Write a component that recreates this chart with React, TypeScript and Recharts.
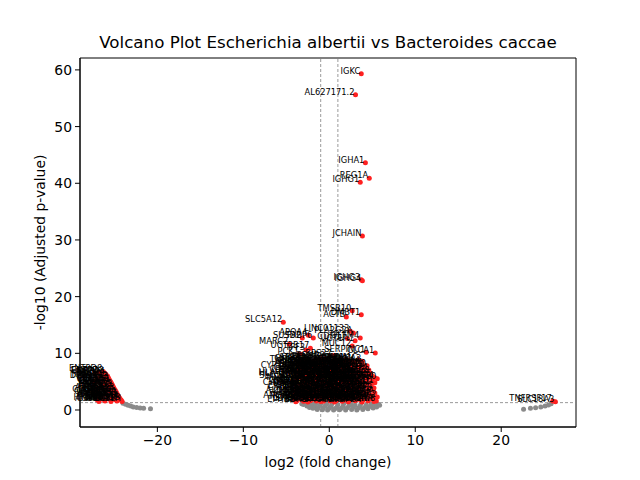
import React from 'react';
import { ScatterChart, Scatter, XAxis, YAxis, ReferenceLine, ReferenceArea, Label } from 'recharts';

// [gene, log2 fold change, -log10 adjusted p]
const topHits: [string, number, number][] = [
  ['IGKC', 3.72, 59.3], ['AL627171.2', 3.05, 55.6], ['IGHA1', 4.2, 43.6], ['REG1A', 4.65, 40.9],
  ['IGHG1', 3.6, 40.2], ['JCHAIN', 3.85, 30.7], ['IGHG3', 3.72, 23.0], ['IGHG4', 3.85, 22.8],
  ['TMSB10', 2.67, 17.5], ['DMBT1', 3.72, 16.8], ['ACTB', 1.98, 16.4], ['SLC5A12', -5.35, 15.5],
  ['APOA4', -2.44, 13.2], ['LINC01133', 2.45, 13.9], ['PLA2G2A', 2.8, 13.6], ['SUSD2', -3.14, 12.7],
  ['FABP6', -1.86, 12.7], ['MARC2', -4.65, 11.6], ['CDH17', 2.1, 12.6], ['UGT1A1', 3.0, 12.2],
  ['OLFM4', 3.6, 12.7], ['MUC12', 2.67, 11.3], ['UGT2B17', -2.2, 10.9], ['TFF3', -2.7, 10.6],
  ['PCK1', -3.4, 9.9], ['CLCA1', 5.35, 10.05], ['SERPINC1', 4.3, 10.2], ['FAM3B', -1.0, 9.0],
  ['FLNA', 2.2, 8.8], ['CA2', 3.84, 8.6], ['KRT20', 4.4, 7.8], ['RPS27', 0.4, 9.6],
];

const coreHits: [string, number, number][] = [
  ['GMFG', -3.4, 8.7], ['STRA6', -2.6, 8.9], ['LYZ', -1.9, 8.6], ['CCL25', -1.2, 8.8], ['PSMB8', -0.4, 9.1],
  ['C3', 0.4, 8.7], ['CXCL14', 1.2, 8.5], ['ITLN1', 1.9, 8.9], ['SPINK4', 2.7, 8.6], ['ADH1C', 3.4, 8.8],
  ['AQP8', -3.6, 7.9], ['CA4', -2.9, 7.7], ['GUCA2B', -2.1, 8.1], ['SLC26A3', -1.4, 7.8], ['MS4A12', -0.6, 7.9],
  ['CEACAM5', 0.2, 8.1], ['CEACAM6', 1.0, 7.7], ['LGALS4', 1.7, 7.9], ['KRT8', 2.5, 8.0], ['KRT19', 3.2, 7.7], ['EPCAM', 3.9, 7.9],
  ['CDX2', -3.7, 7.0], ['VIL1', -3.0, 7.2], ['MUC2', -2.3, 6.9], ['TFF1', -1.5, 7.1], ['REG4', -0.8, 7.0],
  ['DEFA5', 0.0, 7.2], ['DEFA6', 0.8, 6.9], ['S100P', 1.5, 7.1], ['S100A6', 2.3, 7.0], ['LCN2', 3.0, 6.8],
  ['PIGR', 3.8, 7.1], ['CD74', 4.6, 7.05],
  ['HLA-DRA', -3.8, 6.2], ['HLA-DRB1', -3.1, 6.0], ['B2M', -2.4, 6.3], ['TMSB4X', -1.6, 6.1], ['RPL13', -0.9, 6.2],
  ['RPS18', -0.1, 6.4], ['EEF1A1', 0.7, 6.1], ['FTL', 1.4, 6.2], ['FTH1', 2.2, 6.0], ['GAPDH', 2.9, 6.3],
  ['SELENBP1', 3.7, 6.1], ['CES2', 4.4, 6.2], ['CDHR5', 5.0, 6.0],
  ['MEP1A', -3.9, 5.3], ['SI', -3.2, 5.4], ['LCT', -2.5, 5.2], ['APOB', -1.7, 5.4], ['APOC3', -1.0, 5.3],
  ['FABP2', -0.2, 5.1], ['RBP2', 0.6, 5.4], ['ALPI', 1.3, 5.3], ['ANPEP', 2.1, 5.2], ['XPNPEP2', 2.8, 5.4],
  ['SLC6A19', 3.6, 5.2], ['SLC15A1', 4.3, 5.4], ['MTTP', 5.0, 5.1], ['TM4SF20', 5.58, 5.5],
  ['CYP3A4', -3.9, 4.4], ['GSTA1', -3.3, 4.5], ['UGT2A3', -2.6, 4.3], ['HMGCS2', -1.8, 4.5], ['PCK2', -1.1, 4.4],
  ['CPS1', -0.3, 4.2], ['OTC', 0.5, 4.5], ['ASS1', 1.2, 4.4], ['ARG2', 2.0, 4.3], ['NOS2', 2.7, 4.5],
  ['DUOX2', 3.5, 4.4], ['DUOXA2', 4.2, 4.3], ['CXCL1', 4.9, 4.5],
  ['CXCL8', -4.0, 3.5], ['IL1B', -3.3, 3.6], ['TNF', -2.6, 3.4], ['IFITM3', -1.9, 3.6], ['IFI27', -1.1, 3.5],
  ['ISG15', -0.4, 3.3], ['MX1', 0.4, 3.6], ['OAS1', 1.1, 3.5], ['STAT1', 1.9, 3.4], ['SOCS3', 2.6, 3.6],
  ['JUN', 3.4, 3.5], ['FOS', 4.1, 3.4], ['EGR1', 4.9, 3.6], ['ATF3', 5.1, 3.5],
  ['KLF4', -4.1, 2.6], ['KLF5', -3.4, 2.7], ['ELF3', -2.7, 2.5], ['HNF4A', -1.9, 2.7], ['SATB2', -1.2, 2.6],
  ['CLDN3', -0.5, 2.5], ['CLDN4', 0.3, 2.7], ['CLDN7', 1.0, 2.6], ['OCLN', 1.8, 2.5], ['TJP1', 2.5, 2.7],
  ['ZG16', 3.3, 2.6], ['CLCA4', 4.0, 2.5], ['BEST4', 4.8, 2.7], ['OTOP2', 5.58, 2.3],
  ['SPIB', -4.1, 1.8], ['CA7', -3.4, 1.9], ['GCG', -2.7, 1.7], ['PYY', -2.0, 1.9], ['CHGA', -1.3, 1.8],
  ['TPH1', -0.6, 1.7], ['NTS', 0.2, 1.9], ['SCT', 0.9, 1.8], ['CCK', 1.7, 1.7], ['GIP', 2.4, 1.9],
  ['SST', 3.2, 1.8], ['MUC13', 3.9, 1.7], ['MUC17', 4.7, 1.9], ['TSPAN8', 5.47, 1.6],
  ['EPHB2', -3.9, 1.45], ['LGR5', -2.5, 1.4], ['ASCL2', -1.0, 1.5], ['SMOC2', 0.6, 1.4],
  ['MKI67', 2.2, 1.45], ['TOP2A', 3.8, 1.4], ['PCNA', 5.2, 1.5],
];

const coreHitsB: [string, number, number][] = [
  ['ACE2', -3.2, 8.3], ['TMPRSS2', -2.3, 8.4], ['CDX1', -1.6, 8.2], ['HOXB13', -0.8, 8.3], ['PRAP1', 0.0, 8.4],
  ['SLC9A3', 0.8, 8.2], ['NXPE4', 1.6, 8.3], ['CA12', 2.3, 8.4], ['AKR1B10', 3.0, 8.2], ['SLC4A4', 3.7, 8.3],
  ['CYP2C18', -3.5, 7.4], ['GPA33', -2.7, 7.5], ['PHGR1', -2.0, 7.3], ['FCGBP', -1.2, 7.4], ['SPDEF', -0.4, 7.5],
  ['ATOH1', 0.4, 7.3], ['RETNLB', 1.2, 7.4], ['TFF2', 2.0, 7.5], ['AGR2', 2.7, 7.3], ['MUC4', 3.5, 7.4], ['ANXA10', 4.2, 7.5],
  ['HEPH', -3.6, 6.6], ['CDKN2B', -2.8, 6.7], ['TSPAN1', -2.0, 6.5], ['IHH', -1.2, 6.6], ['SLC37A2', -0.5, 6.7],
  ['EPHX2', 0.3, 6.5], ['ACSL5', 1.1, 6.6], ['FUT2', 1.8, 6.7], ['B3GNT7', 2.6, 6.5], ['GALNT12', 3.3, 6.6],
  ['SDR16C5', 4.1, 6.7], ['PLAC8', 4.8, 6.5],
  ['SLC13A2', -3.7, 5.7], ['CFTR', -2.9, 5.8], ['SLC5A1', -2.1, 5.6], ['TMEM37', -1.4, 5.7], ['CHP2', -0.6, 5.8],
  ['AOC1', 0.2, 5.6], ['HSD17B2', 0.9, 5.7], ['BTNL3', 1.7, 5.8], ['BTNL8', 2.4, 5.6], ['MEP1B', 3.2, 5.7],
  ['SLC2A5', 3.9, 5.8], ['SLC2A2', 4.7, 5.6], ['GATA4', 5.3, 5.7],
  ['GATA6', -3.8, 4.8], ['NR1H4', -3.0, 4.9], ['FGF19', -2.2, 4.7], ['SLC10A2', -1.5, 4.8], ['FABP1', -0.7, 4.9],
  ['APOA1', 0.1, 4.7], ['MUC3A', 0.8, 4.8], ['CUBN', 1.6, 4.9], ['AMN', 2.4, 4.7], ['LRP2', 3.1, 4.8],
  ['DPP4', 3.9, 4.9], ['ACE', 4.6, 4.7], ['TMIGD1', 5.3, 4.8],
  ['ENPEP', -3.9, 3.9], ['MME', -3.1, 4.0], ['SLC3A1', -2.3, 3.8], ['SLC7A9', -1.5, 3.9], ['SLC1A1', -0.8, 4.0],
  ['PEPD', 0.0, 3.8], ['LCTL', 0.8, 3.9], ['TREH', 1.5, 4.0], ['NAALADL1', 2.3, 3.8], ['ADA', 3.0, 3.9],
  ['CBR1', 3.8, 4.0], ['FBP1', 4.5, 3.8], ['G6PC', 5.2, 3.9],
  ['ALDOB', -3.9, 3.0], ['KHK', -3.1, 3.1], ['GPT', -2.3, 2.9], ['MOGAT2', -1.6, 3.0], ['DGAT1', -0.8, 3.1],
  ['PLB1', 0.0, 2.9], ['CYP4F2', 0.7, 3.0], ['SULT2A1', 1.5, 3.1], ['ABCG5', 2.3, 2.9], ['ABCG8', 3.0, 3.0],
  ['NPC1L1', 3.8, 3.1], ['SCARB1', 4.5, 2.9], ['LIPA', 5.3, 3.0],
  ['PLIN2', -4.0, 2.2], ['ANGPTL4', -3.1, 2.1], ['PDK4', -2.4, 2.3], ['CPT1A', -1.6, 2.2], ['ACADL', -0.9, 2.1],
  ['HADHA', -0.1, 2.3], ['ECHS1', 0.6, 2.2], ['ACAA2', 1.4, 2.1], ['BDH1', 2.1, 2.3], ['OXCT1', 2.9, 2.2],
  ['ACAT1', 3.6, 2.1], ['SLC16A1', 4.4, 2.3], ['PPARG', 5.2, 2.2],
  ['LDHA', -3.8, 1.6], ['PKM', -3.0, 1.55], ['ENO1', -2.2, 1.65], ['PGK1', -1.5, 1.6], ['TPI1', -0.7, 1.55],
  ['ALDOA', 0.1, 1.6], ['HK2', 0.8, 1.65], ['PFKP', 1.5, 1.55], ['GPI', 2.3, 1.6], ['PGAM1', 3.0, 1.65],
  ['SLC2A1', 3.8, 1.55], ['HIF1A', 4.5, 1.6],
];

const leftHits: [string, number, number][] = [
  ['ENTPD8', -26.3, 6.8], ['ENPP7', -26.8, 6.6],
  ['RBP4', -26.0, 6.3], ['RPL3L', -26.5, 6.2], ['DES', -27.2, 6.4],
  ['PRSS2', -25.7, 5.7], ['RPS4Y1', -26.2, 5.8], ['DEFB1', -26.9, 5.6],
  ['CTRB2', -25.5, 5.1], ['PRSS1', -26.1, 5.2], ['CPA1', -26.8, 5.0], ['CEL', -27.4, 5.1],
  ['CELA3A', -25.3, 4.6], ['PNLIP', -25.9, 4.5], ['CLPS', -26.6, 4.7], ['INS', -27.3, 4.6],
  ['GCGR', -25.1, 4.0], ['REG3G', -25.7, 4.1], ['FGB', -26.4, 3.9], ['FGA', -27.1, 4.0],
  ['ALB', -24.9, 3.5], ['APOA1', -25.5, 3.4], ['APOA2', -26.2, 3.6], ['TTR', -26.9, 3.5], ['HP', -27.5, 3.4],
  ['SAA4', -24.7, 2.9], ['AMBP', -25.3, 3.0], ['AHSG', -26.0, 2.8], ['ORM1', -26.7, 2.9], ['CRP', -27.4, 3.0],
  ['SAA1', -24.5, 2.4], ['SAA2', -25.1, 2.3], ['MT1G', -25.8, 2.5], ['HAMP', -26.5, 2.4], ['C4A', -27.2, 2.3],
  ['DEFB4A', -24.3, 1.9], ['DMBX1', -24.9, 1.8], ['PRB3', -25.6, 2.0], ['PRH2', -26.3, 1.9], ['HTN1', -27.0, 1.8],
  ['STATH', -24.1, 1.5], ['SMR3B', -24.7, 1.6], ['MUC7', -25.4, 1.5], ['AMY1A', -26.1, 1.6], ['CST1', -26.8, 1.5],
  ['ENTPD3', -26.1, 6.5], ['RPL10L', -25.8, 6.0], ['RPS4Y2', -25.6, 5.4], ['DEFA1', -25.4, 4.9],
  ['CTRC', -25.2, 4.3], ['CPB1', -25.0, 3.7], ['SPINK1', -24.8, 3.2], ['PRSS3', -24.6, 2.6],
  ['DEFA4', -24.4, 2.1], ['MUC5B', -24.2, 1.7], ['CELA2A', -26.0, 3.2], ['SYCN', -26.4, 4.3],
];

const rightHits: [string, number, number][] = [
  ['TNFRSF17', 26.0, 1.6], ['SLC18A3', 26.3, 1.45],
];

// not significant: [log2 fold change, -log10 adjusted p]
const nsCore: [number, number][] = [
  [-3.2, 1.1], [-3.0, 0.95], [-2.8, 1.2], [-2.6, 0.7], [-2.4, 1.0], [-2.3, 0.45], [-2.1, 0.8], [-2.0, 1.2],
  [-1.9, 0.3], [-1.7, 0.6], [-1.6, 1.0], [-1.4, 0.1], [-1.3, 0.4], [-1.1, 0.8], [-1.0, 1.15], [-0.8, 0.05],
  [-0.7, 0.35], [-0.5, 0.7], [-0.3, 1.0], [-0.2, 0.02], [0.0, 0.3], [0.2, 0.65], [0.3, 1.1], [0.5, 0.0],
  [0.7, 0.25], [0.9, 0.55], [1.0, 0.95], [1.2, 0.05], [1.4, 0.3], [1.6, 0.7], [1.7, 1.2], [1.9, 0.0],
  [2.1, 0.4], [2.3, 0.8], [2.5, 1.1], [2.6, 0.1], [2.8, 0.5], [3.0, 0.9], [3.2, 0.02], [3.4, 0.35],
  [3.6, 0.75], [3.7, 1.2], [3.9, 0.1], [4.1, 0.45], [4.3, 0.9], [4.5, 0.2], [4.7, 0.6], [4.9, 1.05],
  [5.1, 0.35], [5.3, 0.75], [5.5, 0.55], [5.7, 1.0], [5.85, 0.85],
];

const nsTails: [number, number][] = [
  [-24.0, 1.2], [-23.7, 1.0], [-23.4, 0.85], [-23.1, 0.7], [-22.8, 0.55], [-22.4, 0.45], [-22.0, 0.35],
  [-21.6, 0.3], [-20.8, 0.2],
  [22.6, 0.15], [23.4, 0.3], [24.0, 0.4], [24.6, 0.55], [25.1, 0.7], [25.5, 0.9], [25.8, 1.1],
];

const xTicks = [-20, -10, 0, 10, 20];
const yTicks = [0, 10, 20, 30, 40, 50, 60];

const sigData = [...topHits, ...coreHits, ...coreHitsB, ...leftHits, ...rightHits].map(([name, x, y]) => ({ name, x, y }));
const nsData = [...nsCore, ...nsTails].map(([x, y]) => ({ x, y }));

const font = 'DejaVu Sans, sans-serif';
const minus = (v: number) => String(v).replace('-', '\u2212');

const Dot = (props: any) => <circle cx={props.cx} cy={props.cy} r={2.5} fill={props.fill} />;

const GeneLabel = (props: any) => (
  <text x={props.cx - 1} y={props.cy} textAnchor="end" fontSize={8.3} fontFamily={font} fill="#000">
    {props.payload.name}
  </text>
);

export default function App() {
  return (
    <div style={{ position: 'absolute', left: 0, top: 0, width: 640, height: 480, background: '#fff', fontFamily: font }}>
      <div style={{ position: 'absolute', top: 32, left: 0, width: 656, textAlign: 'center', fontSize: 16.7, lineHeight: '20px' }}>
        Volcano Plot Escherichia albertii vs Bacteroides caccae
      </div>
      <ScatterChart width={640} height={480} margin={{ top: 58, right: 64, bottom: 0, left: 0 }}>
        <XAxis
          type="number"
          dataKey="x"
          domain={[-29, 28.7]}
          ticks={xTicks}
          height={53}
          tickSize={5}
          tickMargin={3}
          tickFormatter={minus}
          axisLine={{ stroke: '#000' }}
          tickLine={{ stroke: '#000' }}
          tick={{ fill: '#000', fontSize: 13.9, fontFamily: font }}
        >
          <Label value="log2 (fold change)" position="insideBottom" offset={13} fill="#000" fontSize={13.9} fontFamily={font} />
        </XAxis>
        <YAxis
          type="number"
          dataKey="y"
          domain={[-3, 62.1]}
          ticks={yTicks}
          width={80}
          tickSize={5}
          tickMargin={3}
          axisLine={{ stroke: '#000' }}
          tickLine={{ stroke: '#000' }}
          tick={{ fill: '#000', fontSize: 13.9, fontFamily: font }}
        >
          <Label value="-log10 (Adjusted p-value)" angle={-90} position="center" dx={0} fill="#000" fontSize={13.9} fontFamily={font} />
        </YAxis>
        <ReferenceLine x={-1} stroke="#7f7f7f" strokeDasharray="3 2" strokeWidth={0.8} />
        <ReferenceLine x={1} stroke="#7f7f7f" strokeDasharray="3 2" strokeWidth={0.8} />
        <ReferenceLine y={1.3} stroke="#7f7f7f" strokeDasharray="3 2" strokeWidth={0.8} />
        <Scatter data={nsData} fill="#8a8a8a" shape={Dot} isAnimationActive={false} />
        <Scatter data={sigData} fill="#ff2020" shape={Dot} isAnimationActive={false} />
        <Scatter data={sigData} fill="#000" shape={GeneLabel} isAnimationActive={false} />
        <ReferenceArea x1={-29} x2={28.7} y1={-3} y2={62.1} fill="none" stroke="#000" strokeWidth={1} ifOverflow="visible" />
      </ScatterChart>
    </div>
  );
}
